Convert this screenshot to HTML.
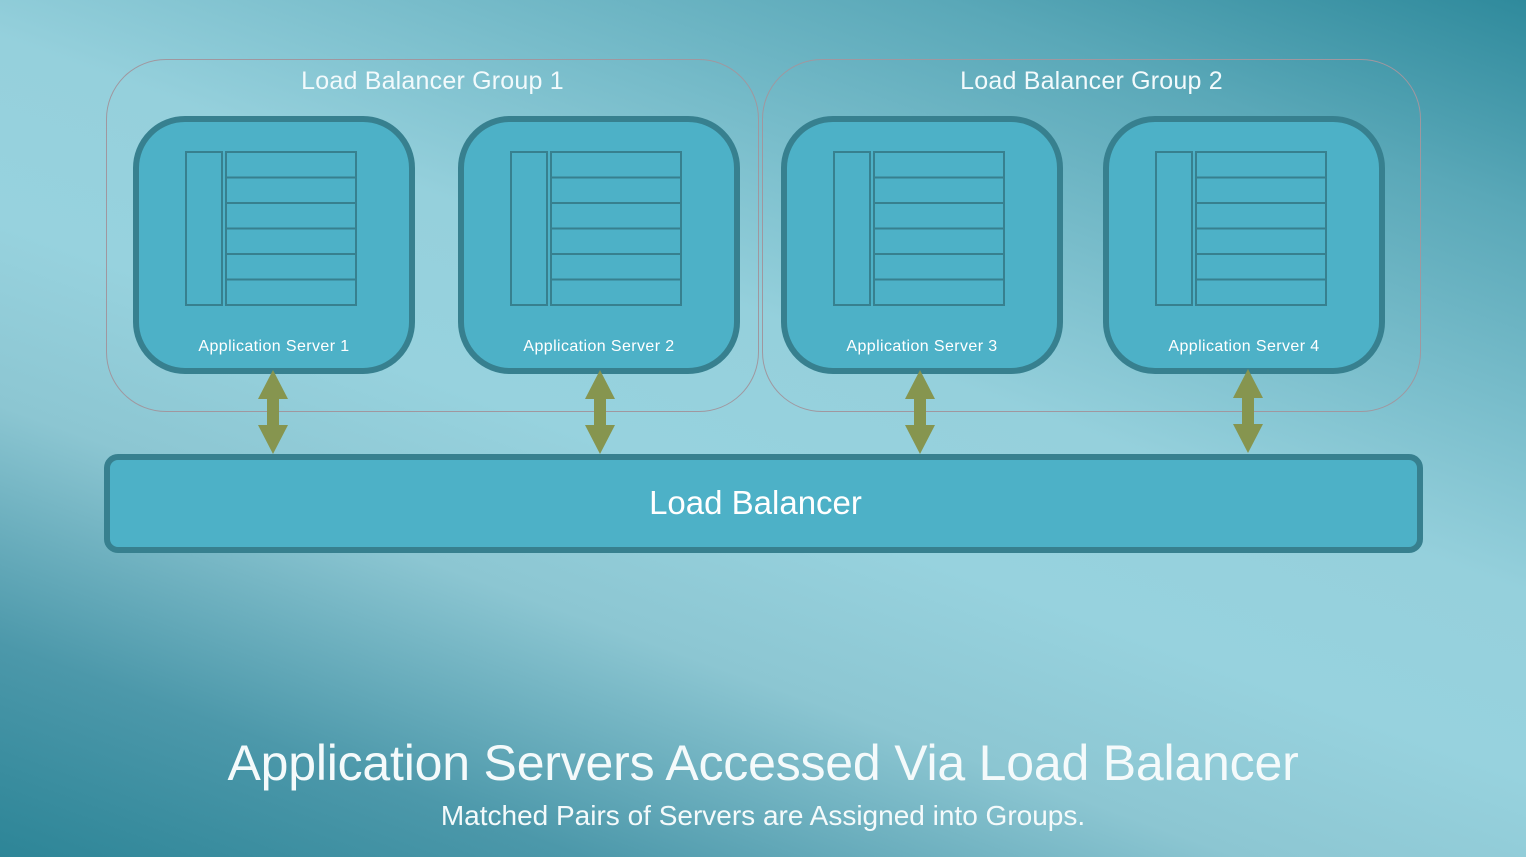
<!DOCTYPE html>
<html><head><style>
body{margin:0;width:1526px;height:857px;overflow:hidden;font-family:"Liberation Sans",sans-serif;
background:linear-gradient(200deg,#2f8a9c 0%,#5aa8b8 15%,#95d0dc 42%,#97d2de 55%,#8cc6d2 68%,#4c98aa 85%,#2d8597 100%);position:relative}
.g{position:absolute;border:1.5px solid #a0979f;border-radius:60px;box-sizing:border-box}
.gt{position:absolute;color:#f2fafc;font-size:25px;font-weight:300;text-align:center;width:100%;top:7px;letter-spacing:0.2px}
.s{position:absolute;top:116px;width:282px;height:258px;background:#4db1c7;border:6px solid #37808f;border-radius:52px;box-sizing:border-box}
.s .l{position:absolute;left:46px;top:29px;width:38px;height:155px;border:2px solid #37808f;box-sizing:border-box}
.s .r{position:absolute;left:86px;top:29px;width:132px;height:155px;border:2px solid #37808f;box-sizing:border-box;
background:repeating-linear-gradient(#4db1c7 0,#4db1c7 23.5px,#37808f 23.5px,#37808f 25.5px)}
.s .t{position:absolute;left:0;right:0;top:216px;text-align:center;color:#fff;font-size:16px;letter-spacing:0.4px}
.lb{position:absolute;left:104px;top:454px;width:1319px;height:99px;background:#4db1c7;border:6px solid #37808f;border-radius:14px;box-sizing:border-box;color:#fff;font-size:33px;text-align:center;line-height:86px;padding-right:16px}
svg{position:absolute;left:0;top:0}
</style></head><body>
<div class="g" style="left:106px;top:59px;width:653px;height:353px"><div class="gt">Load Balancer Group 1</div></div>
<div class="g" style="left:762px;top:59px;width:659px;height:353px"><div class="gt">Load Balancer Group 2</div></div>
<div class="s" style="left:133px"><div class="l"></div><div class="r"></div><div class="t">Application Server 1</div></div>
<div class="s" style="left:458px"><div class="l"></div><div class="r"></div><div class="t">Application Server 2</div></div>
<div class="s" style="left:781px"><div class="l"></div><div class="r"></div><div class="t">Application Server 3</div></div>
<div class="s" style="left:1103px"><div class="l"></div><div class="r"></div><div class="t">Application Server 4</div></div>
<div class="lb">Load Balancer</div>
<svg width="1526" height="857">
<defs><polygon id="a" points="0,-42 15,-13 6,-13 6,13 15,13 0,42 -15,13 -6,13 -6,-13 -15,-13" fill="#86954f"/></defs>
<use href="#a" x="273" y="412"/><use href="#a" x="600" y="412"/><use href="#a" x="920" y="412"/><use href="#a" x="1248" y="411"/>
</svg>
<div style="position:absolute;left:0;right:0;top:734px;text-align:center;color:#f4fafb;font-size:50px;letter-spacing:-0.2px">Application Servers Accessed Via Load Balancer</div>
<div style="position:absolute;left:0;right:0;top:800px;text-align:center;color:#f4fafb;font-size:28px;font-weight:300">Matched Pairs of Servers are Assigned into Groups.</div>
</body></html>
